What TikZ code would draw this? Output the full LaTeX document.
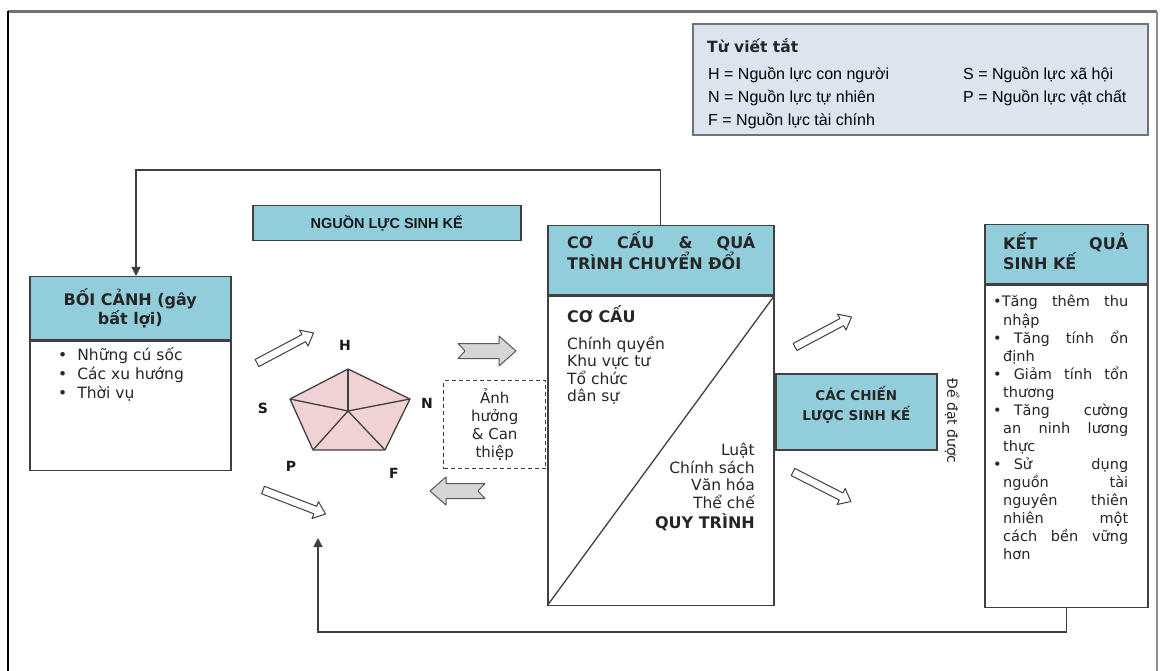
\documentclass[tikz,border=0pt]{standalone}
\usepackage{fontspec}
\setmainfont{DejaVu Sans}
\newfontfamily\legendfont{Liberation Sans}
\usepackage{tikz}
\usetikzlibrary{positioning,arrows.meta,calc}
\definecolor{hdrblue}{HTML}{92CDDC}
\definecolor{pentpink}{HTML}{F0D2D2}
\definecolor{legfill}{HTML}{DCE4F0}
\definecolor{boxline}{HTML}{404040}
\definecolor{arrgray}{HTML}{D6D6D6}
\tikzset{
  hdr/.style={draw=boxline,fill=hdrblue,line width=1.5pt,inner sep=0pt,anchor=north west},
  bodybox/.style={draw=boxline,fill=white,line width=1.5pt,inner sep=0pt,anchor=north west},
  fb/.style={draw=boxline,line width=1.3pt,-{Triangle[length=9pt,width=9pt]}},   % feedback loop
  txt/.style={inner sep=0pt,text=black!85,font=\fontsize{15.5}{17.6}\selectfont},
  hdtxt/.style={inner sep=0pt,text=black!85,font=\bfseries\fontsize{16}{17}\selectfont},
  lbl/.style={inner sep=0pt,text=black!90,font=\bfseries\fontsize{14}{16}\selectfont},
  legtxt/.style={inner sep=0pt,anchor=base west,font=\legendfont\fontsize{16}{18}\selectfont},
  pent/.style={draw=boxline,fill=pentpink,line width=1.3pt,line join=round},
  arrw/.style={draw=boxline,fill=white,line width=1pt,line join=round},
  arrg/.style={draw=black!65,fill=arrgray,line width=1pt,line join=round},
  % block arrow: length / shaft half width / head half width / tail notch
  pics/fatarrow/.style n args={4}{code={
    \path[pic actions] (0,-#2) -- ({#1-#3-2},-#2) -- ({#1-#3-2},-#3) -- (#1,0)
      -- ({#1-#3-2},#3) -- ({#1-#3-2},#2) -- (0,#2) -- (#4,0) -- cycle;
  }},
}
\begin{document}
\begin{tikzpicture}[x=1pt,y=-1pt]
  \useasboundingbox (0,0) rectangle (1160,671);
  \draw[line width=3pt,draw=black!55] (8,12) -- (1157,12);
  \draw[line width=2.5pt,line cap=rect] (8,12) -- (8,671);
  \draw[line width=1.2pt,draw=black!45] (1157,12) -- (1157,671);

  % legend
  \node[draw=black!55,fill=legfill,line width=1.8pt,minimum width=455,minimum height=111,
    anchor=north west,inner sep=0pt] (leg) at (692,23) {};
  \node[inner sep=0pt,anchor=base west,font=\bfseries\fontsize{15.5}{17}\selectfont,text=black!85] (legt) at (707,53) {Từ viết tắt};
  \node[legtxt] (legH) at (708,80) {H = Nguồn lực con người};
  \node[legtxt] (legN) at (708,103) {N = Nguồn lực tự nhiên};
  \node[legtxt] (legF) at (708,126) {F = Nguồn lực tài chính};
  \node[legtxt] (legS) at (963,80) {S = Nguồn lực xã hội};
  \node[legtxt] (legP) at (963,103) {P = Nguồn lực vật chất};

  % context
  \node[hdr,minimum width=201,minimum height=63] (ctxh) at (29,276) {};
  \node[bodybox,minimum width=201,minimum height=129] (ctxb) at (ctxh.south west) {};
  \node[hdtxt,align=center] (ctxt) at (ctxh.center) {BỐI CẢNH (gây\\bất lợi)};
  \foreach \words [count=\i] in {Những cú sốc,Các xu hướng,Thời vụ}
    \node[txt,anchor=base west] (ctx\i) at (58,{342+18.8*\i}) {•\hspace{10pt}\words};

  % livelihood assets
  \node[hdr,minimum width=268,minimum height=35,text=black!90,
    font=\legendfont\bfseries\fontsize{14.5}{16}\selectfont] (resh) at (252,205) {NGUỒN LỰC SINH KẾ};
  \coordinate (pc) at (348,411);
  \coordinate (vH) at (348,369);
  \coordinate (vN) at (410,399);
  \coordinate (vF) at (385,450);
  \coordinate (vP) at (313,450);
  \coordinate (vS) at (290,399);
  \path[pent] (vH) -- (vN) -- (vF) -- (vP) -- (vS) -- cycle;
  \foreach \v in {vH,vN,vF,vP,vS}
    \draw[pent] (pc) -- (\v);
  \node[lbl] (lH) at (345,345) {H};
  \node[lbl] (lN) at (427,403) {N};
  \node[lbl] (lF) at (394,473) {F};
  \node[lbl] (lP) at (291,466) {P};
  \node[lbl] (lS) at (263,408) {S};

  \pic[arrw,rotate=28] (arrH) at (257,363) {fatarrow={64}{4}{9}{0}};
  \pic[arrw,rotate=-21] (arrP) at (263,490) {fatarrow={67}{4}{9}{0}};
  \pic[arrg] (arrTo) at (458,351) {fatarrow={58}{7.5}{15}{7}};
  \pic[arrg,rotate=180] (arrBack) at (485,491) {fatarrow={55}{7.5}{14}{7}};

  \node[draw=boxline,dash pattern=on 4pt off 3pt,line width=1.3pt,minimum width=102,minimum height=88,
    anchor=north west,inner sep=0pt,align=center,text=black!85,
    font=\fontsize{15}{18}\selectfont] (infl) at (443,380) {Ảnh\\hưởng\\\& Can\\thiệp};

  % structures and processes
  \node[hdr,minimum width=226,minimum height=69] (ccqh) at (547,225) {};
  \node[bodybox,minimum width=226,minimum height=309] (ccqb) at (ccqh.south west) {};
  \draw[draw=boxline,line width=1.3pt] (ccqb.south west) -- (ccqb.north east);
  \node[hdtxt,anchor=west,align=left] (ccqt) at (567,251) {\makebox[188pt][s]{CƠ CẤU \& QUÁ}\\TRÌNH CHUYỂN ĐỔI};
  \node[hdtxt,anchor=base west] (cqst) at (567,323) {CƠ CẤU};
  \foreach \words [count=\i] in {Chính quyền,Khu vực tư,Tổ chức,dân sự}
    \node[txt,anchor=base west] (cql\i) at (567,{331.5+17.6*\i}) {\words};
  \foreach \words [count=\i] in {Luật,Chính sách,Văn hóa,Thể chế}
    \node[txt,anchor=base east] (cqr\i) at (755,{438.5+17.4*\i}) {\words};
  \node[hdtxt,anchor=base east] (cqrq) at (755,528) {QUY TRÌNH};

  % strategies
  \pic[arrw,rotate=28] (arrUp) at (795,347) {fatarrow={64}{4}{9}{0}};
  \pic[arrw,rotate=-27] (arrDn) at (793,472) {fatarrow={65}{4}{9}{0}};
  \node[hdr,minimum width=161,minimum height=76] (strat) at (775,373) {};
  \node[hdtxt,align=center,font=\bfseries\fontsize{13.5}{20}\selectfont] (stratt) at ([yshift=7pt]strat.center) {CÁC CHIẾN\\LƯỢC SINH KẾ};
  \node[txt,rotate=-90,font=\fontsize{14}{16}\selectfont] (reach) at (952,421) {Để đạt được};

  % outcomes
  \node[hdr,minimum width=163,minimum height=59] (outh) at (984,224) {};
  \node[bodybox,minimum width=163,minimum height=322] (outb) at (outh.south west) {};
  \node[hdtxt,anchor=west,align=left] (outt) at (1003,251) {\makebox[125pt][s]{KẾT QUẢ}\\SINH KẾ};
  \foreach \xx/\ww/\mm/\words [count=\i] in {
      993/135/s/{•Tăng thêm thu}, 1003/125/l/{nhập},
      993/135/s/{•\hspace{12pt}Tăng tính ổn}, 1003/125/l/{định},
      993/135/s/{•\hspace{12pt}Giảm tính tổn}, 1003/125/l/{thương},
      993/135/s/{•\hspace{12pt}Tăng cường}, 1003/125/s/{an ninh lương}, 1003/125/l/{thực},
      993/135/s/{•\hspace{12pt}Sử dụng}, 1003/125/s/{nguồn tài}, 1003/125/s/{nguyên thiên},
      1003/125/s/{nhiên một}, 1003/125/s/{cách bền vững}, 1003/125/l/{hơn}}
    \node[txt,anchor=base west,font=\fontsize{14.5}{18}\selectfont] (outl\i) at (\xx,{289+18*\i}) {\makebox[\ww pt][\mm]{\words}};

  % feedback loops
  \coordinate (topbend) at (136,170);
  \draw[fb] (ccqh.north) |- (topbend) -- (topbend |- ctxh.north);
  \coordinate (pentin) at (318,538);
  \draw[fb] (outb.south) -- ++(0,24) -| (pentin);
\end{tikzpicture}
\end{document}
